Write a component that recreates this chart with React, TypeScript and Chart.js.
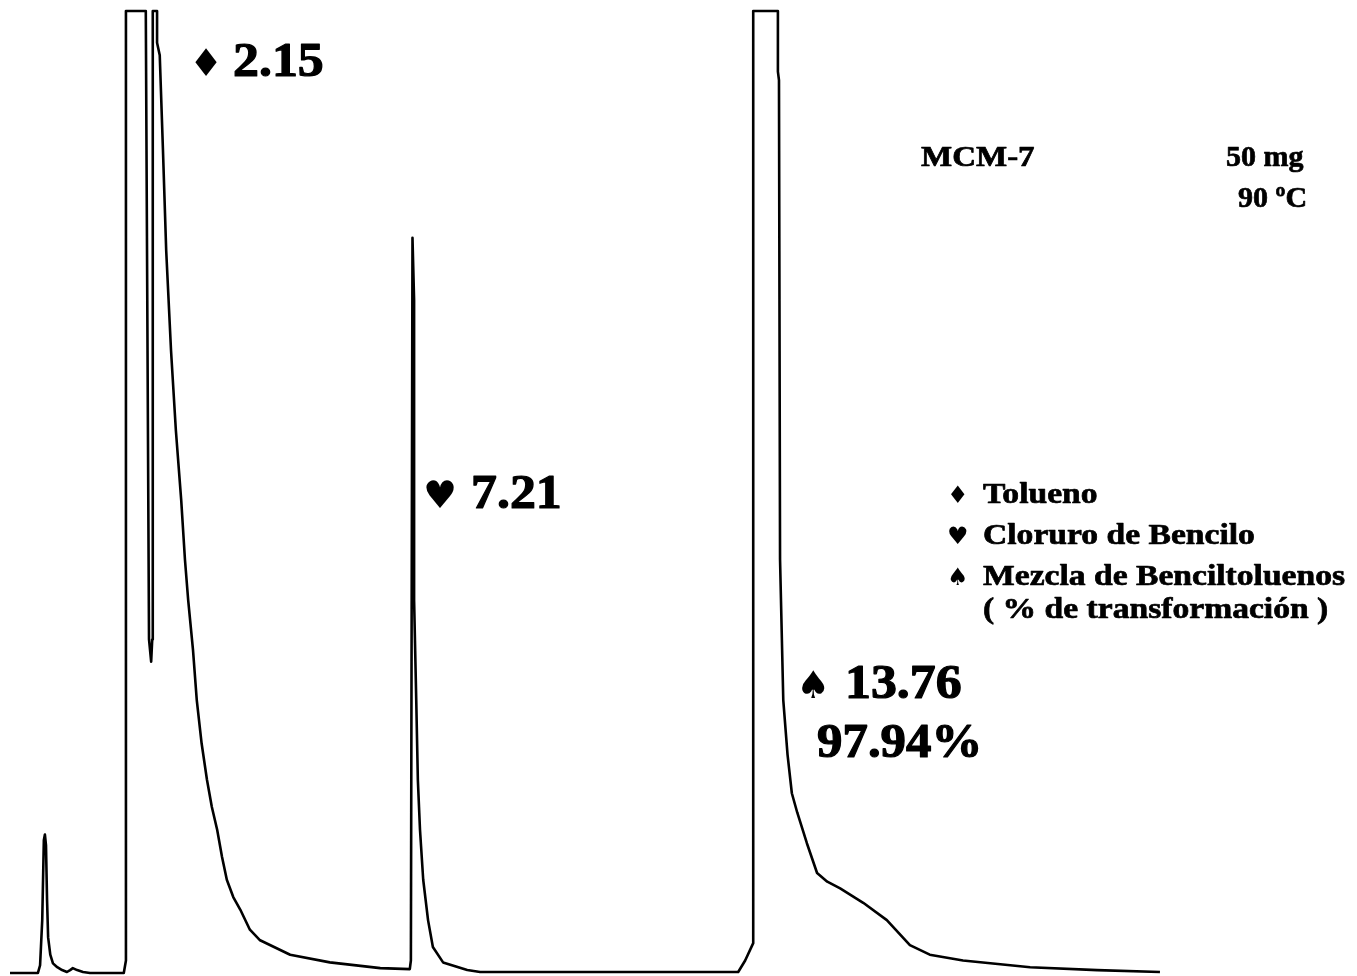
import { useEffect, useRef } from "react";
import { Chart, registerables } from "chart.js";

Chart.register(...registerables);

// Gas chromatogram trace: retention time (min) vs detector response (% of full scale).
// The detector saturates at 100, which flattens the tops of the two largest peaks.
const traceTime = [
  -0.29, 0.23, 0.27, 0.31, 0.34, 0.36, 0.38, 0.4, 0.42, 0.46, 0.51, 0.59, 0.68, 0.77, 0.83, 0.88, 0.96, 1.07, 1.2,
  1.83, 1.87, 1.87, 2.24, 2.3, 2.34, 2.36, 2.37, 2.45, 2.45, 2.5, 2.56, 2.62, 2.71, 2.8, 2.9, 2.97, 3.03, 3.12,
  3.19, 3.28, 3.38, 3.47, 3.57, 3.66, 3.75, 3.87, 4.0, 4.18, 4.37, 4.93, 5.67, 6.61, 7.16, 7.18, 7.21, 7.24, 7.24,
  7.28, 7.31, 7.35, 7.41, 7.5, 7.59, 7.78, 8.23, 8.47, 13.28, 13.41, 13.56, 13.56, 14.02, 14.02, 14.04, 14.06,
  14.12, 14.2, 14.28, 14.38, 14.56, 14.75, 14.94, 15.18, 15.61, 16.05, 16.48, 16.85, 17.47, 18.72, 19.97, 21.14,
];
const traceSignal = [
  -0.1, -0.1, 0.7, 5.4, 13.7, 14.3, 13.2, 7.5, 3.6, 1.8, 0.9, 0.5, 0.2, 0.0, 0.2, 0.4, 0.2, 0.0, -0.1,
  -0.1, 1.2, 100, 100, 34.6, 32.3, 34.6, 100, 100, 96.7, 95.4, 85.5, 75.1, 64.7, 56.4, 49.1, 42.9, 38.7, 33.5,
  28.3, 23.8, 20.0, 17.2, 14.8, 12.0, 9.6, 7.8, 6.5, 4.4, 3.3, 1.8, 1.0, 0.4, 0.3, 1.2, 76.4, 69.9, 38.7,
  28.3, 20.0, 14.8, 9.6, 5.4, 2.6, 1.0, 0.2, 0.0, 0.0, 1.2, 3.0, 100, 100, 93.7, 92.8, 42.9,
  28.3, 22.6, 18.6, 16.6, 13.4, 10.3, 9.4, 8.7, 7.2, 5.4, 2.8, 1.8, 1.2, 0.5, 0.2, 0.0,
];

// Peak annotations
const peakSuits = ["\u2666", "\u2665", "\u2660"];
const peakTimes = ["2.15", "7.21", "13.76"];
const conversionLabel = "97.94%";

// Key and run conditions
const legendNames = ["Tolueno", "Cloruro de Bencilo", "Mezcla de Benciltoluenos"];
const legendNote = "( % de transformación )";
const catalystName = "MCM-7";
const runConditions = ["50 mg", "90 \u00baC"];

const WIDTH = 1357;
const HEIGHT = 976;
const SERIF = "'Liberation Serif', 'Times New Roman', serif";
const SYMBOLS = "'DejaVu Sans', sans-serif";

// Layout of the text blocks (canvas pixels: left x, baseline y)
const peakLabelPos = [
  { sx: 189, tx: 233, y: 76 },
  { sx: 423, tx: 471, y: 508 },
  { sx: 796, tx: 845, y: 698 },
];
const conversionPos = { x: 817, y: 757 };
const legendPos = { sx: 947, tx: 983, y0: 503, dy: 41 };
const notePos = { x: 983, y: 618 };
const catalystPos = { x: 921, y: 166 };
const conditionPos = [
  { x: 1226, y: 166 },
  { x: 1238, y: 207 },
];

function drawText(
  ctx: CanvasRenderingContext2D,
  text: string,
  x: number,
  y: number,
  size: number,
  family: string,
  stretch: number,
  weight = 0
) {
  ctx.save();
  ctx.translate(x, y);
  ctx.scale(stretch, 1);
  ctx.font = `bold ${size}px ${family}`;
  ctx.fillStyle = "#000";
  ctx.textBaseline = "alphabetic";
  ctx.textAlign = "left";
  ctx.fillText(text, 0, 0);
  if (weight > 0) {
    ctx.strokeStyle = "#000";
    ctx.lineWidth = weight;
    ctx.lineJoin = "round";
    ctx.strokeText(text, 0, 0);
  }
  ctx.restore();
}

const annotationPlugin = {
  id: "chromAnnotations",
  afterDraw(chart: Chart) {
    const ctx = chart.ctx;
    peakTimes.forEach((label, i) => {
      const p = peakLabelPos[i];
      drawText(ctx, peakSuits[i], p.sx, p.y, 38, SYMBOLS, 1);
      drawText(ctx, label, p.tx, p.y, 48, SERIF, 1.08, 1.2);
    });
    drawText(ctx, conversionLabel, conversionPos.x, conversionPos.y, 48, SERIF, 1.06, 1.2);

    legendNames.forEach((name, i) => {
      const y = legendPos.y0 + i * legendPos.dy;
      drawText(ctx, peakSuits[i], legendPos.sx, y, 24, SYMBOLS, 1);
      drawText(ctx, name, legendPos.tx, y, 30, SERIF, 1.12, 0.7);
    });
    drawText(ctx, legendNote, notePos.x, notePos.y, 30, SERIF, 1.12, 0.7);

    drawText(ctx, catalystName, catalystPos.x, catalystPos.y, 30, SERIF, 1.1, 0.7);
    runConditions.forEach((c, i) => {
      drawText(ctx, c, conditionPos[i].x, conditionPos[i].y, 30, SERIF, 1.0, 0.7);
    });
  },
};

export default function App() {
  const canvasRef = useRef<HTMLCanvasElement | null>(null);

  useEffect(() => {
    const canvas = canvasRef.current;
    if (!canvas) return;
    const points = traceTime.map((t, i) => ({ x: t, y: traceSignal[i] }));
    const chart = new Chart(canvas, {
      type: "scatter",
      data: {
        datasets: [
          {
            data: points,
            showLine: true,
            borderColor: "#000",
            borderWidth: 2.6,
            borderJoinStyle: "round",
            pointRadius: 0,
            pointHoverRadius: 0,
            tension: 0,
            fill: false,
          },
        ],
      },
      options: {
        animation: false,
        responsive: false,
        maintainAspectRatio: false,
        events: [],
        layout: { padding: 0 },
        plugins: {
          legend: { display: false },
          tooltip: { enabled: false },
          title: { display: false },
        },
        scales: {
          x: { type: "linear", min: -0.477, max: 24.812, display: false },
          y: { type: "linear", min: -0.416, max: 101.145, display: false },
        },
      },
      plugins: [annotationPlugin],
    });
    return () => chart.destroy();
  }, []);

  return (
    <div style={{ position: "fixed", left: 0, top: 0, width: WIDTH, height: HEIGHT, background: "#fff" }}>
      <canvas ref={canvasRef} width={WIDTH} height={HEIGHT} style={{ display: "block" }} />
    </div>
  );
}
